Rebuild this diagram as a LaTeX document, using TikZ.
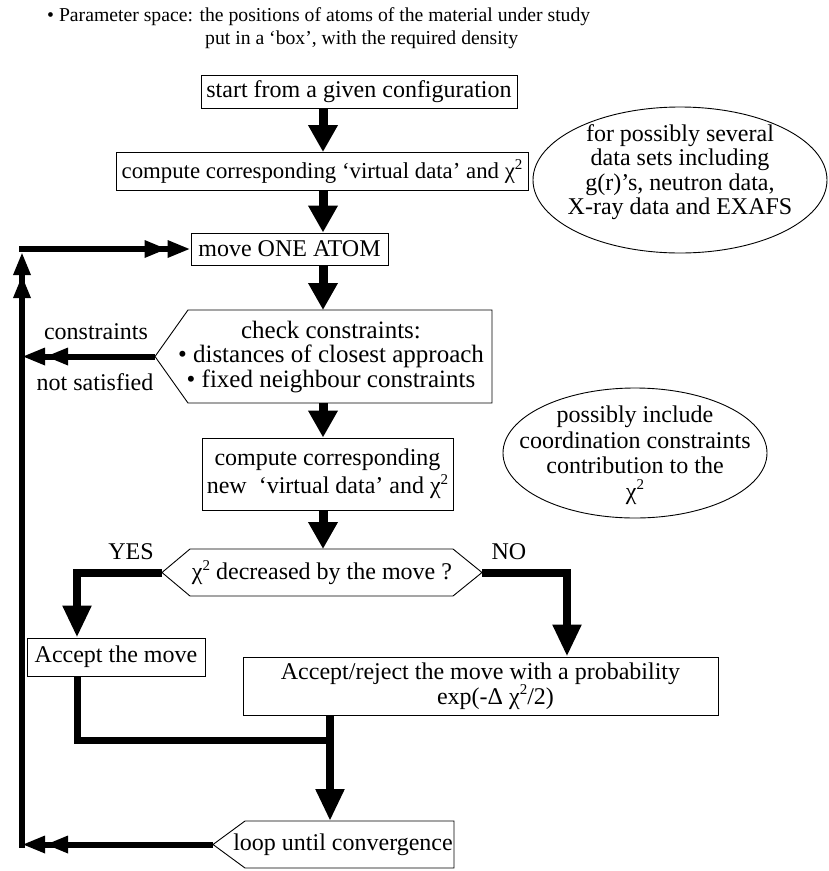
\documentclass[tikz,border=0pt]{standalone}
\usepackage{fontspec}
\setmainfont{Liberation Serif}
\usetikzlibrary{arrows.meta, math}
\newcommand{\chiSq}{χ\raisebox{0.38em}{\fontsize{15}{15}\selectfont 2}}

\begin{document}
\begin{tikzpicture}[x=1pt, y=-1pt,
  txt/.style={inner sep=0pt, align=center, font=\fontsize{24}{24.5}\selectfont},
  head/.style={inner sep=0pt, anchor=west, font=\fontsize{19.7}{19.7}\selectfont},
  box/.style={txt, draw, line width=0.9pt},
  outline/.style={line width=0.9pt},
  spine/.style={line width=9pt, -{Triangle[length=27pt,width=28pt]}},
  branch/.style={line width=8pt, -{Triangle[length=32pt,width=27pt]}},
  joinline/.style={line width=7pt},
  loopline/.style={line width=6pt, -{Triangle[length=23pt,width=16pt,sep=0pt]Triangle[length=23pt,width=16pt]}}]

\tikzmath{
\sx = 323;% spine of the chart
\lx = 22;% return line on the left
}

\useasboundingbox (0,0) rectangle (829,871);

% heading
\node[head] (par1) at (47,17) {\textbullet\ Parameter space: the positions of atoms of the material under study};
\node[head] (par2) at (205,40) {put in a `box', with the required density};

% boxes
\coordinate (spine) at (\sx,0);
\node[box, minimum width=316pt, minimum height=33pt] (start) at (359,91.5) {start from a given configuration};
\node[box, minimum width=412pt, minimum height=38pt, font=\fontsize{22.8}{24}\selectfont] (virt) at (322,171.5) {compute corresponding `virtual data' and \chiSq};
\node[box, minimum width=197pt, minimum height=32pt] (move) at (289.5,249) {move ONE ATOM};
\node[box, minimum width=251pt, minimum height=72pt, font=\fontsize{24}{28}\selectfont] (virtnew) at (327.5,474) {compute corresponding\\new \ `virtual data' and \chiSq};
\node[box, minimum width=178pt, minimum height=38pt] (acc) at (116,657) {Accept the move};
\node[box, minimum width=475pt, minimum height=58pt] (rej) at (480.5,686) {Accept/reject the move with a probability\\\hspace*{30pt}exp(-Δ \chiSq/2)};

% check constraints
\coordinate (checkW) at (155,356.5);
\coordinate (checkN) at (\sx,310);
\coordinate (checkS) at (\sx,403);
\draw[outline] (checkW) -- (188,310) -- (492,310) -- (492,403) -- (188,403) -- cycle;
\node[txt, font=\fontsize{25}{24.5}\selectfont] (check) at (331,357) {check constraints:\\\textbullet\ distances of closest approach\\\textbullet\ fixed neighbour constraints};

% decision
\coordinate (chiW) at (162,572.5);
\coordinate (chiE) at (482,572.5);
\coordinate (chiN) at (\sx,549);
\draw[outline] (chiW) -- (190,549) -- (453,549) -- (chiE) -- (453,596) -- (190,596) -- cycle;
\node[txt] (chi) at (322,573) {\chiSq\ decreased by the move ?};

% loop
\coordinate (loopW) at (213,844.5);
\coordinate (loopN) at (330,821);
\draw[outline] (loopW) -- (245,821) -- (454,821) -- (454,868) -- (245,868) -- cycle;
\node[txt] (loop) at (343,845) {loop until convergence};

% side notes
\draw[outline] (680,180) ellipse [x radius=147, y radius=73];
\node[txt] (sets) at (680,172) {for possibly several\\data sets including\\g(r)'s, neutron data,\\X-ray data and EXAFS};
\draw[outline] (635,453) ellipse [x radius=132, y radius=65];
\node[txt, font=\fontsize{24}{25.5}\selectfont] (coord) at (635,455) {possibly include\\coordination constraints\\contribution to the\\\chiSq};

% main flow
\draw[spine] (start.south -| spine) -- (virt.north -| spine);
\draw[spine] (virt.south -| spine) -- (move.north -| spine);
\draw[spine] (move.south -| spine) -- (checkN);
\draw[spine] (checkS) -- (virtnew.north -| spine);
\draw[spine] (virtnew.south -| spine) -- (chiN);

% yes / no
\coordinate (yes) at (77,572.5);
\coordinate (no) at (567,572.5);
\draw[branch] (chiW) -- (yes) -- (acc.north -| yes);
\draw[branch] (chiE) -- (no) -- (rej.north -| no);
\node[txt] (yeslab) at (131,552) {YES};
\node[txt] (nolab) at (509,552) {NO};

% join
\coordinate (join) at (330,740);
\draw[joinline] (acc.south -| yes) |- (join);
\draw[branch] (rej.south -| join) -- (loopN);

% back to the start of the loop
\coordinate (back) at (\lx,844.5);
\coordinate (backtop) at (\lx,252);
\coordinate (corner) at (\lx,249);
\draw[loopline] (loopW) -- (back);
\draw[loopline] ([yshift=-3pt]back) -- (backtop);
\draw[loopline] ([xshift=-3pt]corner) -- (move.west);
\draw[loopline] (checkW) -- (checkW -| back);
\node[txt] (cons1) at (96,332) {constraints};
\node[txt] (cons2) at (95,382) {not satisfied};

\end{tikzpicture}
\end{document}
